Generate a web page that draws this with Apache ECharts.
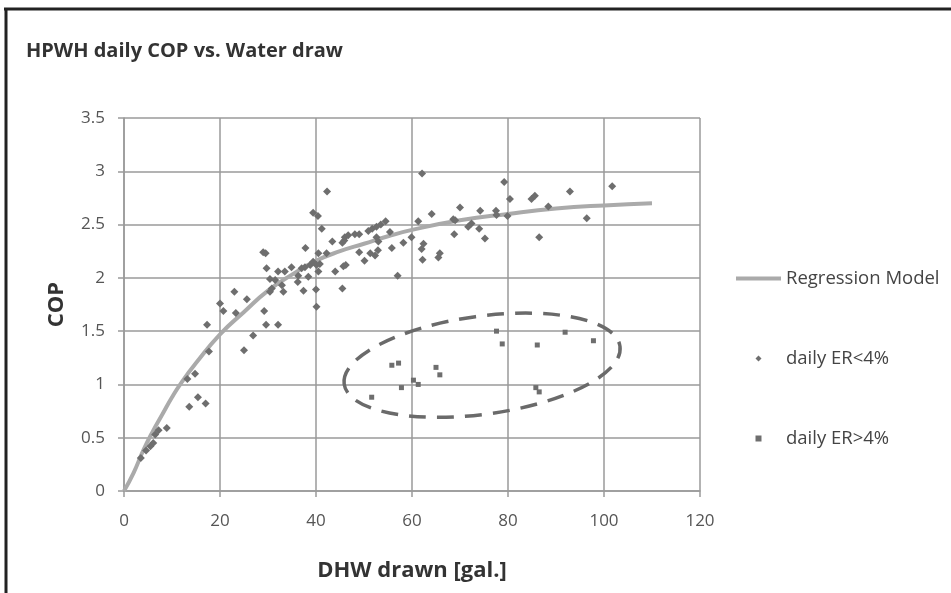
<!DOCTYPE html>
<html>
<head>
<meta charset="utf-8">
<script src="https://cdn.jsdelivr.net/npm/echarts@6/dist/echarts.min.js"></script>
<style>
  html, body { margin: 0; padding: 0; background: #fff; }
  #chart { width: 951px; height: 593px; }
</style>
</head>
<body>
<div id="chart"></div>
<script>
// axis ticks
var xTicks = [0, 20, 40, 60, 80, 100, 120];
var yTicks = [0, 0.5, 1, 1.5, 2, 2.5, 3, 3.5];

// regression model curve
var regressionModel = [
    [0, 0], [2, 0.17], [4, 0.38], [6, 0.56], [8, 0.72], [10, 0.88], [12, 1.02],
    [15, 1.2], [20, 1.47], [25, 1.68], [30, 1.88], [35, 2.03], [40, 2.16],
    [45, 2.25], [50, 2.32], [55, 2.39], [60, 2.45], [70, 2.54], [80, 2.6],
    [90, 2.65], [100, 2.68], [110, 2.7]
];

// daily ER<4%  [DHW gal, COP]
var erLow = [
    [3.5, 0.31], [4.6, 0.38], [5.5, 0.42], [6.1, 0.45], [6.5, 0.53], [7.2, 0.57], [8.9, 0.59],
    [13.2, 1.05], [14.8, 1.10], [13.6, 0.79], [15.4, 0.88], [17.0, 0.82], [17.3, 1.56], [17.7, 1.31],
    [20.0, 1.76], [20.7, 1.69], [23.0, 1.87], [23.3, 1.67], [25.6, 1.80], [25.0, 1.32], [26.9, 1.46],
    [29.2, 1.69], [29.6, 1.56], [32.1, 1.56],
    [29.0, 2.24], [29.5, 2.23], [29.7, 2.09], [30.4, 1.99], [31.5, 1.98], [30.8, 1.90], [30.4, 1.87],
    [32.9, 1.93], [33.2, 1.87], [33.5, 2.06], [32.1, 2.06], [34.9, 2.10], [36.3, 2.02], [36.2, 1.96],
    [37.0, 2.09], [37.7, 2.10], [38.4, 2.01], [37.4, 1.88], [38.8, 2.12], [39.4, 2.15], [40.1, 2.12],
    [40.8, 2.13], [40.5, 2.06], [40.0, 1.89], [40.1, 1.73], [37.8, 2.28], [40.5, 2.23], [42.2, 2.23],
    [41.2, 2.46], [39.4, 2.61], [40.4, 2.58], [42.3, 2.81], [43.4, 2.34], [44.0, 2.06], [45.5, 1.90],
    [45.7, 2.11], [46.2, 2.12], [45.5, 2.33], [45.9, 2.35], [46.0, 2.38], [46.7, 2.40], [48.1, 2.41],
    [49.0, 2.41], [50.9, 2.44], [51.7, 2.46], [52.6, 2.48], [53.5, 2.50], [54.5, 2.53], [52.6, 2.38],
    [53.0, 2.34], [49.0, 2.24], [50.1, 2.16], [51.3, 2.23], [52.3, 2.21], [52.9, 2.26], [55.4, 2.43],
    [55.8, 2.28], [57.0, 2.02], [58.2, 2.33], [59.9, 2.38], [61.3, 2.53], [62.0, 2.27], [62.2, 2.17],
    [62.4, 2.32], [62.1, 2.98], [64.1, 2.60], [65.5, 2.19], [65.8, 2.23], [68.6, 2.55], [69.0, 2.54],
    [68.8, 2.41], [70.0, 2.66], [71.7, 2.48], [72.4, 2.51], [74.0, 2.46], [74.2, 2.63], [75.2, 2.37],
    [77.5, 2.63], [77.6, 2.59], [79.9, 2.58], [79.2, 2.90], [80.4, 2.74], [84.9, 2.74], [85.6, 2.77],
    [86.5, 2.38], [88.4, 2.67], [92.9, 2.81], [96.4, 2.56], [101.7, 2.86]
];

// daily ER>4%
var erHigh = [
    [51.6, 0.88], [55.8, 1.18], [57.2, 1.20], [57.8, 0.97], [60.3, 1.04], [61.3, 1.00],
    [65.0, 1.16], [65.8, 1.09], [77.6, 1.50], [78.8, 1.38], [86.1, 1.37], [91.9, 1.49],
    [97.8, 1.41], [85.8, 0.97], [86.5, 0.93]
];

// dashed ellipse around the ER>4% group: [centre x, centre y, half width gal, half height COP]
var ellipseNote = [[74.6, 1.18, 29, 0.46]];

var fontName = '"Open Sans", Lato, sans-serif';
var gridColor = '#9a9a9a';
var markColor = '#6e6e6e';

var myChart = echarts.init(document.getElementById('chart'));

var option = {
    animation: false,
    backgroundColor: '#fff',
    title: {
        text: 'HPWH daily COP vs. Water draw',
        left: 26,
        top: 41,
        padding: 0,
        textStyle: { fontFamily: fontName, fontSize: 20, fontWeight: 'bold', color: '#333' }
    },
    grid: { left: 124, right: 251, top: 118, bottom: 102 },
    legend: {
        orient: 'vertical',
        left: 734,
        top: 269,
        padding: 0,
        itemWidth: 45,
        itemHeight: 6,
        itemGap: 61,
        textStyle: { fontFamily: fontName, fontSize: 18.5, color: '#444' },
        lineStyle: { width: 4, color: '#aaaaaa' },
        data: [
            { name: 'Regression Model', itemStyle: { opacity: 0 } },
            { name: 'daily ER<4%', icon: 'path://M0,-1L1,0L0,1L-1,0Z' },
            { name: 'daily ER>4%', icon: 'path://M0,0H1V1H0Z' }
        ]
    },
    xAxis: {
        type: 'value',
        min: xTicks[0],
        max: xTicks[xTicks.length - 1],
        interval: 20,
        name: 'DHW drawn [gal.]',
        nameLocation: 'middle',
        nameGap: 69,
        nameTextStyle: { fontFamily: fontName, fontSize: 22, fontWeight: 'bold', color: '#333' },
        axisLine: { lineStyle: { color: gridColor, width: 1.5 } },
        axisTick: { show: true, length: 6, lineStyle: { color: gridColor, width: 1.5 } },
        axisLabel: { margin: 22, fontFamily: fontName, fontSize: 17, color: '#555' },
        splitLine: { show: true, lineStyle: { color: gridColor, width: 1.5 } }
    },
    yAxis: {
        type: 'value',
        min: yTicks[0],
        max: yTicks[yTicks.length - 1],
        interval: 0.5,
        name: 'COP',
        nameLocation: 'middle',
        nameGap: 56,
        nameTextStyle: { fontFamily: fontName, fontSize: 22, fontWeight: 'bold', color: '#333' },
        axisLine: { show: true, lineStyle: { color: gridColor, width: 1.5 } },
        axisTick: { show: true, length: 6, lineStyle: { color: gridColor, width: 1.5 } },
        axisLabel: { margin: 19, fontFamily: fontName, fontSize: 17, color: '#555' },
        splitLine: { show: true, lineStyle: { color: gridColor, width: 1.5 } }
    },
    series: [
        {
            name: 'Regression Model',
            type: 'line',
            data: regressionModel,
            smooth: true,
            showSymbol: false,
            symbol: 'none',
            lineStyle: { color: '#aaaaaa', width: 4 },
            itemStyle: { color: '#aaaaaa' },
            z: 2
        },
        {
            name: 'daily ER<4%',
            type: 'scatter',
            data: erLow,
            symbol: 'diamond',
            symbolSize: 8,
            itemStyle: { color: markColor, opacity: 1 },
            z: 3
        },
        {
            name: 'daily ER>4%',
            type: 'scatter',
            data: erHigh,
            symbol: 'rect',
            symbolSize: 5,
            itemStyle: { color: markColor, opacity: 1 },
            z: 3
        },
        {
            type: 'custom',
            data: ellipseNote,
            silent: true,
            z: 4,
            renderItem: function (params, api) {
                var c = api.coord([api.value(0), api.value(1)]);
                var rx = api.size([api.value(2), 0])[0];
                var ry = api.size([0, api.value(3)])[1];
                return {
                    type: 'ellipse',
                    x: c[0],
                    y: c[1],
                    rotation: 0.136,
                    shape: { cx: 0, cy: 0, rx: rx, ry: ry },
                    style: { fill: null, stroke: '#6a6a6a', lineWidth: 3.5, lineDash: [17, 11] }
                };
            }
        }
    ],
    graphic: [
        { type: 'line', shape: { x1: 4, y1: 9, x2: 951, y2: 9 }, style: { stroke: '#222', lineWidth: 3 } },
        { type: 'line', shape: { x1: 6, y1: 8, x2: 6, y2: 593 }, style: { stroke: '#222', lineWidth: 3 } }
    ]
};

myChart.setOption(option);
</script>
</body>
</html>
